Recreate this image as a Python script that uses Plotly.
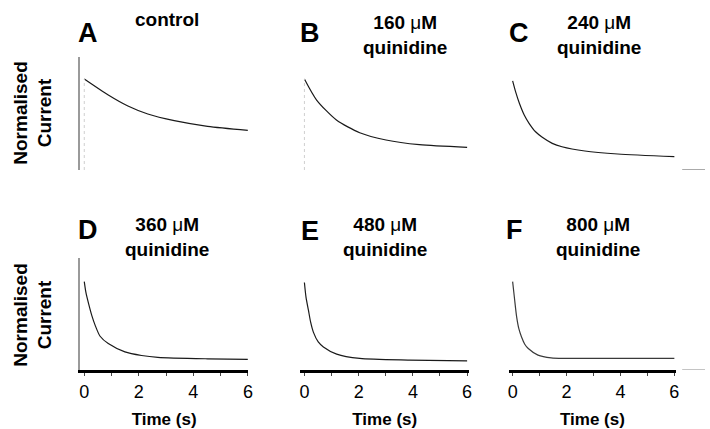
import plotly.graph_objects as go

# ---- data ----
panel_letters = ["A", "B", "C", "D", "E", "F"]
panel_titles = ["control", "160 μM quinidine", "240 μM quinidine",
                "360 μM quinidine", "480 μM quinidine", "800 μM quinidine"]

tA = [0, 0.88, 1.6, 2.33, 3.3, 4.52, 6]
vA = [1.0, 0.824, 0.703, 0.615, 0.542, 0.48, 0.436]
tB = [0, 0.45, 1.18, 2.04, 3.01, 4.24, 6]
vB = [1.0, 0.769, 0.55, 0.41, 0.33, 0.278, 0.249]
tC = [0, 0.12, 0.25, 0.43, 0.61, 0.85, 1.1, 1.47, 1.83, 2.68, 3.9, 6]
vC = [0.98, 0.85, 0.733, 0.604, 0.513, 0.42, 0.36, 0.293, 0.256, 0.209, 0.176, 0.146]
tD = [0, 0.06, 0.16, 0.28, 0.4, 0.58, 0.88, 1.49, 2.1, 2.7, 4.52, 6]
vD = [0.98, 0.86, 0.733, 0.60, 0.495, 0.374, 0.293, 0.201, 0.161, 0.14, 0.124, 0.118]
tE = [0, 0.06, 0.15, 0.23, 0.33, 0.51, 0.7, 1.19, 2.04, 3.87, 6]
vE = [0.97, 0.805, 0.66, 0.53, 0.42, 0.311, 0.256, 0.176, 0.128, 0.11, 0.102]
tF = [0, 0.07, 0.15, 0.23, 0.33, 0.45, 0.58, 0.94, 1.43, 3.3, 6]
vF = [0.98, 0.79, 0.586, 0.458, 0.366, 0.286, 0.238, 0.165, 0.135, 0.128, 0.128]

tick_vals = [0, 1, 2, 3, 4, 5, 6]
tick_labels = ["0", "", "2", "", "4", "", "6"]
x_title = "Time (s)"
y_title = "Normalised<br>Current"

times = [tA, tB, tC, tD, tE, tF]
values = [vA, vB, vC, vD, vE, vF]

# ---- layout helpers ----
W, H = 710, 429
FONT = "Arial, Liberation Sans, sans-serif"


def px(x):
    return x / W


def py(y):
    return 1 - y / H


col_dom = [(80, 249), (302, 472), (512, 681)]
col_rng = [(-0.145, 6.0), (-0.146, 6.07), (-0.147, 6.07)]
row_dom = [(57, 170), (258, 370)]
y_rng = [0, 1.242]

fig = go.Figure()
for i in range(6):
    r, c = divmod(i, 3)
    n = i + 1
    xa = "x" if n == 1 else f"x{n}"
    ya = "y" if n == 1 else f"y{n}"
    colour = "#1a1a1a" if i < 5 else "#3a3a3a"
    fig.add_trace(go.Scatter(x=times[i], y=values[i], mode="lines",
                             line=dict(color=colour, width=1.2, shape="spline",
                                       smoothing=0.7),
                             xaxis=xa, yaxis=ya, showlegend=False,
                             hoverinfo="skip"))
    x0, x1 = col_dom[c]
    y0, y1 = row_dom[r]
    bottom = r == 1
    fig.layout[f"xaxis{'' if n == 1 else n}"] = dict(
        domain=[px(x0), px(x1)], range=list(col_rng[c]), anchor=ya,
        showgrid=False, zeroline=False,
        showline=bottom, linecolor="black", linewidth=3,
        ticks="outside" if bottom else "", ticklen=3, tickwidth=1,
        tickcolor="#444",
        tickvals=tick_vals if bottom else [],
        ticktext=tick_labels if bottom else [],
        showticklabels=bottom,
        tickfont=dict(family=FONT, size=18, color="black"),
        title=dict(text=f"<b>{x_title}</b>" if bottom else "",
                   font=dict(family=FONT, size=17, color="black"),
                   standoff=14),
    )
    fig.layout[f"yaxis{'' if n == 1 else n}"] = dict(
        domain=[py(y1), py(y0)], range=y_rng, anchor=xa,
        showgrid=False, zeroline=False, showticklabels=False, ticks="",
        showline=(c == 0), linecolor="#9a9a9a", linewidth=1.5,
    )

# dotted t=0 markers in A and B
for xa, ya in [("x", "y"), ("x2", "y2")]:
    fig.add_shape(type="line", xref=xa, yref=ya, x0=0, x1=0, y0=0, y1=1.0,
                  line=dict(color="#cfcfcf", width=1, dash="dot"))

# short zero reference bars to the right of C and F
fig.add_shape(type="line", xref="paper", yref="y3", x0=px(687), x1=1,
              y0=0, y1=0, line=dict(color="#555", width=1))
fig.add_shape(type="line", xref="paper", yref="y6", x0=px(687), x1=1,
              y0=0, y1=0, line=dict(color="#888", width=1))

# letters and titles
letter_pos = [(88, 33), (312, 33), (522, 33), (88, 230), (312, 231), (518, 230)]
title_pos = [(167, 20), (407, 35), (603, 35), (167, 237), (387, 237), (602, 237)]
for i in range(6):
    lx, ly = letter_pos[i]
    fig.add_annotation(x=px(lx), y=py(ly), xref="paper", yref="paper",
                       xanchor="center", yanchor="middle",
                       text=f"<b>{panel_letters[i]}</b>", showarrow=False,
                       font=dict(family=FONT, size=27, color="black"))
    t = panel_titles[i]
    if " " in t:
        conc, unit, drug = t.split(" ")
        txt = f"<b>{conc} </b>{unit[0]}<b>{unit[1:]}</b><br><b>{drug}</b>"
    else:
        txt = f"<b>{t}</b>"
    tx, ty = title_pos[i]
    fig.add_annotation(x=px(tx), y=py(ty), xref="paper", yref="paper",
                       xanchor="center", yanchor="middle",
                       text=txt, showarrow=False, align="center",
                       font=dict(family=FONT, size=19, color="black"))

for yc in (113, 315):
    fig.add_annotation(x=px(32), y=py(yc), xref="paper", yref="paper",
                       xanchor="center", yanchor="middle",
                       text=f"<b>{y_title}</b>", showarrow=False,
                       textangle=-90, align="center",
                       font=dict(family=FONT, size=19, color="black"))

fig.update_layout(width=W, height=H, margin=dict(l=0, r=0, t=0, b=0),
                  paper_bgcolor="white", plot_bgcolor="white")

fig.write_html("out.html")
